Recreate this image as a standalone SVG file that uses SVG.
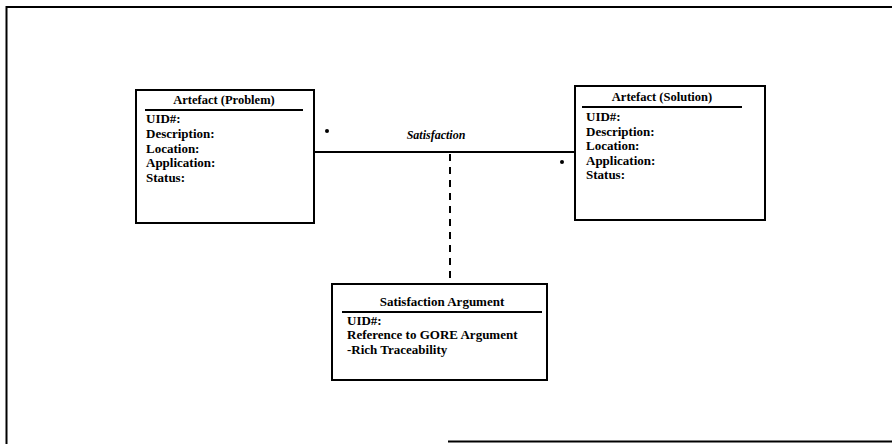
<svg xmlns="http://www.w3.org/2000/svg" width="892" height="444" viewBox="0 0 892 444">
  <style>
    .box { fill: #fff; stroke: #000; stroke-width: 2; }
    .rule { stroke: #000; stroke-width: 2; }
    .frame { stroke: #000; stroke-width: 2; fill: none; }
    text { font-family: "Liberation Serif", "Times New Roman", serif; font-weight: bold; font-size: 13px; fill: #000; }
    .title { text-anchor: middle; font-size: 12.5px; }
    .assoc { font-style: italic; text-anchor: middle; font-size: 12px; }
    .link { stroke: #000; stroke-width: 2; fill: none; }
    .dash { stroke: #000; stroke-width: 2; fill: none; stroke-dasharray: 7 6; }
  </style>
  <rect width="892" height="444" fill="#fff"/>

  <!-- page frame -->
  <g id="frame">
    <path class="frame" d="M6.5 444 V7 H892"/>
    <path class="frame" d="M448 441.5 H892"/>
  </g>

  <!-- association and its argument link -->
  <g id="connectors">
    <line class="link" x1="314" y1="152" x2="575" y2="152"/>
    <line class="dash" x1="450" y1="154" x2="450" y2="284"/>
    <circle cx="327" cy="131" r="2" fill="#000"/>
    <circle cx="562" cy="162" r="2" fill="#000"/>
    <text class="assoc" x="436" y="139">Satisfaction</text>
  </g>

  <g id="artefact-problem">
    <rect class="box" x="136" y="90" width="178" height="133"/>
    <text class="title" x="224" y="104">Artefact (Problem)</text>
    <line class="rule" x1="145" y1="110" x2="303" y2="110"/>
    <text x="146" y="123">UID#:</text>
    <text x="146" y="137.5">Description:</text>
    <text x="146" y="152.5">Location:</text>
    <text x="146" y="167">Application:</text>
    <text x="146" y="182">Status:</text>
  </g>

  <g id="artefact-solution">
    <rect class="box" x="575" y="86" width="190" height="134"/>
    <text class="title" x="662" y="101">Artefact (Solution)</text>
    <line class="rule" x1="582" y1="107" x2="742" y2="107"/>
    <text x="586" y="121">UID#:</text>
    <text x="586" y="135.5">Description:</text>
    <text x="586" y="150">Location:</text>
    <text x="586" y="164.5">Application:</text>
    <text x="586" y="179">Status:</text>
  </g>

  <g id="satisfaction-argument">
    <rect class="box" x="332" y="284" width="215" height="96"/>
    <text class="title" x="442" y="306" style="font-size:13px">Satisfaction Argument</text>
    <line class="rule" x1="342" y1="312" x2="542" y2="312"/>
    <text x="347" y="324.5">UID#:</text>
    <text x="347" y="339">Reference to GORE Argument</text>
    <text x="347" y="354">-Rich Traceability</text>
  </g>
</svg>
